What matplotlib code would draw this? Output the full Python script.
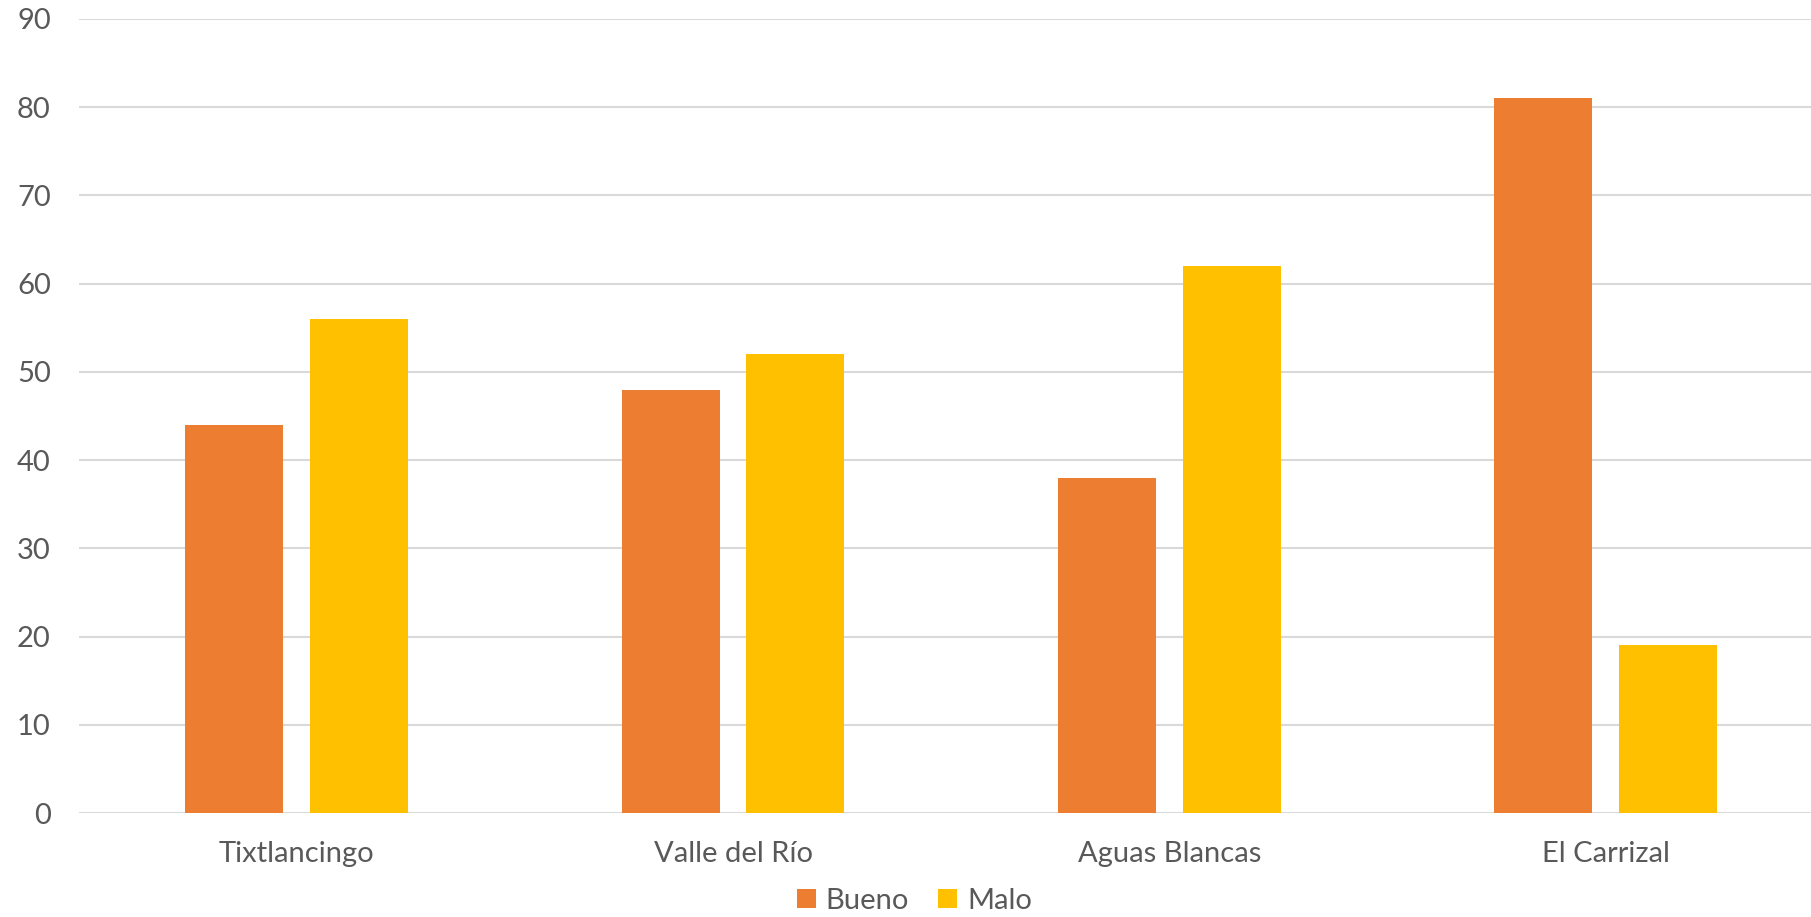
import matplotlib
matplotlib.use("Agg")
import matplotlib.pyplot as plt
import numpy as np

categories = ["Tixtlancingo", "Valle del Río", "Aguas Blancas", "El Carrizal"]
bueno = [44, 48, 38, 81]
malo = [56, 52, 62, 19]
series_names = ["Bueno", "Malo"]
y_ticks = [0, 10, 20, 30, 40, 50, 60, 70, 80, 90]

plt.rcParams["font.family"] = ["Lato", "DejaVu Sans"]

fig = plt.figure(figsize=(18.11, 9.17), dpi=100)
ax = fig.add_axes([0.0434, 0.1134, 0.9636, 0.8659])

x = np.arange(len(categories))
w = 0.225
gap = 0.061
ax.bar(x - (w + gap) / 2, bueno, width=w, color="#ED7D31", label=series_names[0], zorder=3)
ax.bar(x + (w + gap) / 2, malo, width=w, color="#FFC000", label=series_names[1], zorder=3)

ax.set_xlim(-0.5, len(categories) - 0.5)
ax.set_ylim(0, 90)
ax.set_yticks(y_ticks)
ax.set_xticks(x)
ax.set_xticklabels(categories)

ax.grid(axis="y", color="#D9D9D9", linewidth=1.5, zorder=0)
ax.set_axisbelow(True)
for s in ["top", "right", "left", "bottom"]:
    ax.spines[s].set_visible(False)
ax.tick_params(axis="both", length=0, labelsize=21, colors="#595959")
ax.tick_params(axis="y", pad=20)
ax.tick_params(axis="x", pad=20)

fig.legend(loc="center", bbox_to_anchor=(0.505, 0.0175), ncol=2, frameon=False,
           fontsize=21, labelcolor="#595959", handlelength=0.65, handleheight=0.65,
           handletextpad=0.35, columnspacing=1.0)

fig.savefig("out.png", dpi=100, facecolor="white")
